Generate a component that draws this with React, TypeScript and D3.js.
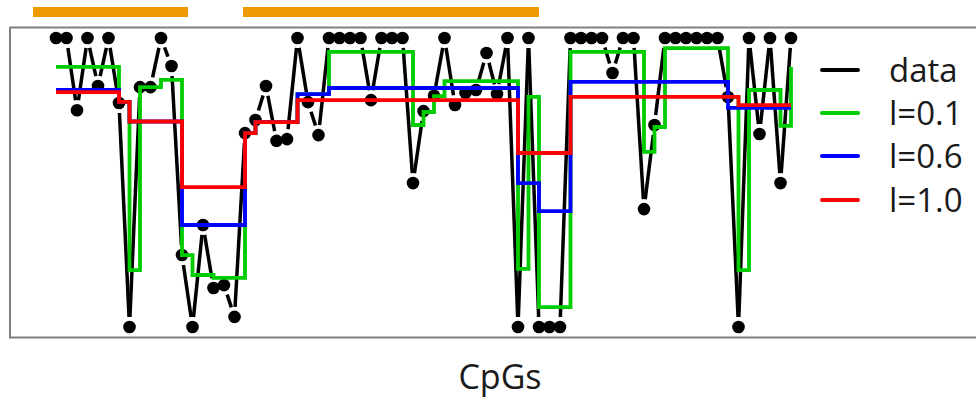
import React from "react";
import * as d3 from "d3";

const W = 976;
const H = 399;

// methylation values per CpG (index order)
const dataValues = [
  1, 1, 0.75, 1, 0.834, 1, 0.775, 0, 0.83, 0.83,
  1, 0.903, 0.249, 0, 0.353, 0.135, 0.145, 0.035, 0.671, 0.716,
  0.834, 0.644, 0.65, 1, 0.778, 0.664, 1, 1, 1, 1,
  0.785, 1, 1, 1, 0.498, 0.747, 0.8, 1, 0.768, 0.81,
  0.82, 0.948, 0.806, 1, 0, 1, 0, 0, 0, 1,
  1, 1, 1, 0.879, 1, 1, 0.408, 0.699, 1, 1,
  1, 1, 1, 1, 0.796, 0, 1, 0.668, 1, 0.498,
  1,
];

const fitL01 = [
  0.9, 0.9, 0.9, 0.9, 0.9, 0.9, 0.779, 0.197, 0.83, 0.83,
  0.855, 0.855, 0.249, 0.18, 0.18, 0.17, 0.17, 0.17, 0.671, 0.709,
  0.709, 0.709, 0.709, 0.806, 0.806, 0.806, 0.952, 0.952, 0.952, 0.952,
  0.952, 0.952, 0.952, 0.952, 0.699, 0.744, 0.799, 0.851, 0.851, 0.851,
  0.851, 0.851, 0.851, 0.851, 0.201, 0.796, 0.069, 0.069, 0.069, 0.952,
  0.952, 0.952, 0.952, 0.952, 0.952, 0.952, 0.606, 0.692, 0.965, 0.965,
  0.965, 0.965, 0.965, 0.965, 0.796, 0.197, 0.82, 0.82, 0.82, 0.696,
  0.9,
];

const fitL06 = [
  0.82, 0.82, 0.82, 0.82, 0.82, 0.82, 0.779, 0.711, 0.711, 0.711,
  0.711, 0.711, 0.353, 0.353, 0.353, 0.353, 0.353, 0.353, 0.671, 0.709,
  0.709, 0.709, 0.709, 0.806, 0.806, 0.806, 0.827, 0.827, 0.827, 0.827,
  0.827, 0.827, 0.827, 0.827, 0.827, 0.827, 0.827, 0.827, 0.827, 0.827,
  0.827, 0.827, 0.827, 0.827, 0.498, 0.498, 0.401, 0.401, 0.401, 0.848,
  0.848, 0.848, 0.848, 0.848, 0.848, 0.848, 0.848, 0.848, 0.848, 0.848,
  0.848, 0.848, 0.848, 0.848, 0.758, 0.758, 0.758, 0.758, 0.758, 0.758,
  0.758,
];

const fitL10 = [
  0.813, 0.813, 0.813, 0.813, 0.813, 0.813, 0.779, 0.711, 0.711, 0.711,
  0.711, 0.711, 0.484, 0.484, 0.484, 0.484, 0.484, 0.484, 0.671, 0.709,
  0.709, 0.709, 0.709, 0.785, 0.785, 0.785, 0.785, 0.785, 0.785, 0.785,
  0.785, 0.785, 0.785, 0.785, 0.785, 0.785, 0.785, 0.785, 0.785, 0.785,
  0.785, 0.785, 0.785, 0.785, 0.602, 0.602, 0.602, 0.602, 0.602, 0.796,
  0.796, 0.796, 0.796, 0.796, 0.796, 0.796, 0.796, 0.796, 0.796, 0.796,
  0.796, 0.796, 0.796, 0.796, 0.796, 0.768, 0.768, 0.768, 0.768, 0.768,
  0.768,
];

// region bars above the panel, in CpG index units
const regionStarts = [-2.19, 17.81];
const regionEnds = [12.57, 46.0];

const legendLabels = ["data", "l=0.1", "l=0.6", "l=1.0"];
const legendColors = ["#000000", "#00CD00", "#0000FF", "#FF0000"];
const xLabel = "CpGs";

export default function App() {
  const x = d3.scaleLinear().domain([0, dataValues.length - 1]).range([56, 791]);
  const y = d3.scaleLinear().domain([0, 1]).range([327, 38]);

  const step = (vals: number[]) =>
    d3
      .line<number>()
      .x((_, i) => x(i))
      .y((v) => y(v))
      .curve(d3.curveStepAfter)(vals) || "";

  const gap = 10;
  const segs: { x1: number; y1: number; x2: number; y2: number }[] = [];
  for (let i = 0; i < dataValues.length - 1; i++) {
    const ax = x(i), ay = y(dataValues[i]);
    const bx = x(i + 1), by = y(dataValues[i + 1]);
    const len = Math.hypot(bx - ax, by - ay);
    if (len <= 2 * gap + 1) continue;
    const ux = (bx - ax) / len, uy = (by - ay) / len;
    segs.push({ x1: ax + ux * gap, y1: ay + uy * gap, x2: bx - ux * gap, y2: by - uy * gap });
  }

  const fits = [fitL01, fitL06, fitL10];
  const legendY = [70, 113, 156, 200];
  const font = "'Open Sans', 'DejaVu Sans', sans-serif";

  return (
    <svg
      width={W}
      height={H}
      style={{ position: "absolute", left: 0, top: 0, background: "#fff" }}
    >
      <rect x={0} y={0} width={W} height={H} fill="#fff" />
      {regionStarts.map((s, i) => (
        <rect
          key={"r" + i}
          x={x(s)}
          y={7}
          width={x(regionEnds[i]) - x(s)}
          height={10}
          fill="#EE9A00"
        />
      ))}
      <rect x={10} y={27.5} width={1000} height={310} fill="none" stroke="#808080" strokeWidth={2} />
      {segs.map((s, i) => (
        <line key={"s" + i} {...s} stroke="#000" strokeWidth={3.5} />
      ))}
      {dataValues.map((v, i) => (
        <circle key={"p" + i} cx={x(i)} cy={y(v)} r={6.3} fill="#000" />
      ))}
      {fits.map((f, k) => (
        <path key={"f" + k} d={step(f)} fill="none" stroke={legendColors[k + 1]} strokeWidth={3.8} />
      ))}
      {legendLabels.map((lab, i) => (
        <g key={"l" + i}>
          <line x1={822} x2={858} y1={legendY[i]} y2={legendY[i]} stroke={legendColors[i]} strokeWidth={4} strokeLinecap="round" />
          <text x={889} y={legendY[i]} dy="0.35em" fontFamily={font} fontSize={33} fill="#1a1a1a">
            {lab}
          </text>
        </g>
      ))}
      <text x={500} y={377} dy="0.35em" textAnchor="middle" fontFamily={font} fontSize={34} fill="#1a1a1a">
        {xLabel}
      </text>
    </svg>
  );
}
